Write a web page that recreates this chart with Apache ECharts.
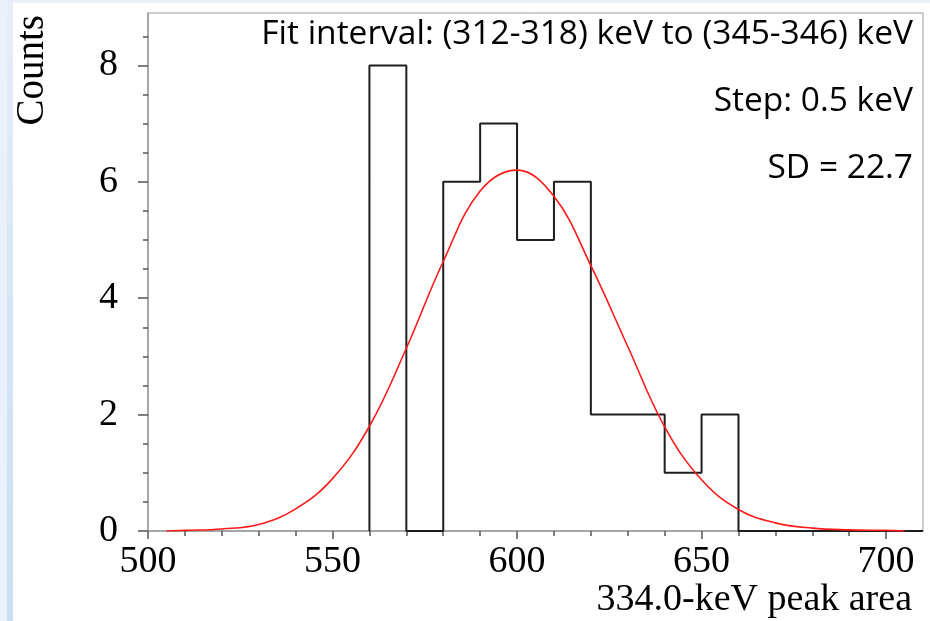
<!DOCTYPE html>
<html>
<head>
<meta charset="utf-8">
<script src="https://cdn.jsdelivr.net/npm/echarts@6/dist/echarts.min.js"></script>
<style>
  html, body { margin: 0; padding: 0; }
  body { width: 930px; height: 621px; position: relative; background: #eaf1fa; overflow: hidden; }
  #paper { position: absolute; left: 13px; top: 3px; right: 0; bottom: 0; background: #fff; }
  #stripe { position: absolute; left: 7px; width: 6px; top: 0; bottom: 0;
            background: linear-gradient(to bottom, #e6eef9 0%, #d6e5f5 50%, #cadef3 100%); }
  #chart { position: absolute; left: 0; top: 0; width: 930px; height: 621px; }
</style>
</head>
<body>
<div id="stripe"></div>
<div id="paper"></div>
<div id="chart"></div>
<script>
  // histogram bins (keV peak area) and counts
  const binEdges = [560, 570, 580, 590, 600, 610, 620, 630, 640, 650, 660];
  const binCounts = [8, 0, 6, 7, 5, 6, 2, 2, 1, 2];

  // gaussian fit
  const fitX = [505, 510, 520, 530, 540, 550, 560, 570, 580, 590, 600, 610, 620, 630, 640, 650, 660, 670, 680, 690, 700, 705];
  const fitY = [0.0, 0.01, 0.035, 0.11, 0.38, 0.9, 1.8, 3.14, 4.63, 5.84, 6.2, 5.75, 4.56, 3.17, 1.79, 0.88, 0.37, 0.14, 0.05, 0.02, 0.01, 0.0];

  const xTickLabels = [500, 550, 600, 650, 700];
  const yTickLabels = [0, 2, 4, 6, 8];

  const notes = [
    'Fit interval: (312-318) keV to (345-346) keV',
    'Step: 0.5 keV',
    'SD = 22.7'
  ];

  // step outline of the histogram
  const histLine = [[binEdges[0], 0]];
  binCounts.forEach((c, i) => histLine.push([binEdges[i], c]));
  histLine.push([binEdges[binEdges.length - 1], 0]);
  histLine.push([710, 0]);

  const chart = echarts.init(document.getElementById('chart'));

  const serif = '"Liberation Serif", "Times New Roman", serif';
  const sans = '"Open Sans", "Noto Sans", sans-serif';

  const option = {
    animation: false,
    backgroundColor: 'transparent',
    grid: {
      left: 148,
      right: 7,
      top: 13,
      bottom: 90,
      containLabel: false,
      outerBoundsMode: 'none',
      show: true,
      borderColor: '#9a9a9a',
      borderWidth: 1
    },
    xAxis: {
      type: 'value',
      min: 500,
      max: 710,
      interval: 50,
      name: '334.0-keV peak area',
      nameLocation: 'end',
      nameGap: -11,
      nameTextStyle: {
        fontFamily: serif,
        fontSize: 38,
        color: '#000',
        align: 'right',
        verticalAlign: 'top',
        padding: [50, 0, 0, 0]
      },
      axisLine: { lineStyle: { color: '#9a9a9a', width: 1.5 } },
      axisTick: { customValues: xTickLabels, length: 8, lineStyle: { color: '#555', width: 1.5 } },
      minorTick: { show: true, splitNumber: 5, length: 5, lineStyle: { color: '#555', width: 1.5 } },
      axisLabel: {
        customValues: xTickLabels,
        fontFamily: serif,
        fontSize: 38,
        color: '#000',
        margin: 12
      },
      splitLine: { show: false }
    },
    yAxis: {
      type: 'value',
      min: 0,
      max: 8.9,
      interval: 2,
      name: 'Counts',
      nameLocation: 'end',
      nameRotate: 90,
      nameGap: -2,
      nameTextStyle: {
        fontFamily: serif,
        fontSize: 39,
        color: '#000',
        align: 'right',
        verticalAlign: 'bottom',
        padding: [0, 0, 96, 0]
      },
      axisLine: { lineStyle: { color: '#9a9a9a', width: 1.5 } },
      axisTick: { customValues: yTickLabels, length: 10, lineStyle: { color: '#555', width: 1.5 } },
      minorTick: { show: true, splitNumber: 4, length: 5, lineStyle: { color: '#555', width: 1.5 } },
      axisLabel: {
        customValues: yTickLabels,
        fontFamily: serif,
        fontSize: 38,
        color: '#000',
        margin: 30
      },
      splitLine: { show: false }
    },
    graphic: notes.map((t, i) => ({
      type: 'text',
      x: 913,
      y: 34 + i * 67,
      z: 100,
      style: {
        text: t,
        font: '33.5px ' + sans,
        fill: '#000',
        align: 'right',
        verticalAlign: 'middle'
      }
    })),
    series: [
      {
        name: 'hist',
        type: 'line',
        step: 'end',
        data: histLine,
        symbol: 'none',
        lineStyle: { color: '#1e1e1e', width: 2 },
        z: 3
      },
      {
        name: 'fit',
        type: 'line',
        smooth: 0.4,
        data: fitX.map((x, i) => [x, fitY[i]]),
        symbol: 'none',
        lineStyle: { color: '#ff1a1a', width: 1.6 },
        z: 4
      }
    ]
  };

  chart.setOption(option);
</script>
</body>
</html>
